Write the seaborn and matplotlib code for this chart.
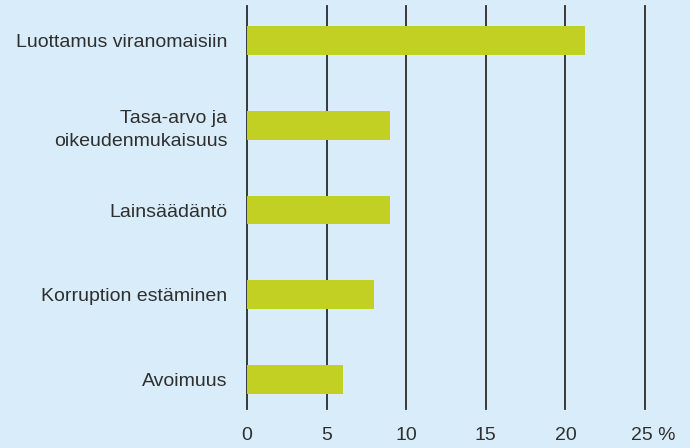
import pandas as pd
import seaborn as sns
import matplotlib.pyplot as plt
import matplotlib.transforms as mtransforms

categories = ['Luottamus viranomaisiin', 'Tasa-arvo ja\noikeudenmukaisuus',
              'Lainsäädäntö', 'Korruption estäminen', 'Avoimuus']
values = [21.2, 9.0, 9.0, 8.0, 6.0]
ticks = [0, 5, 10, 15, 20, 25]
tick_labels = ['0', '5', '10', '15', '20', '25 %']

bg = '#d8edf9'
bar_col = '#c2d024'

df = pd.DataFrame({'cat': categories, 'val': values})

fig = plt.figure(figsize=(6.9, 4.48), dpi=100)
fig.patch.set_facecolor(bg)
ax = fig.add_axes([247/690, 1 - 409/448, (645 - 247)/690, (409 - 6)/448])
ax.set_facecolor(bg)

for t in ticks:
    ax.axvline(t, color='#2b2b2b', lw=1.3, zorder=0, clip_on=False)

sns.barplot(data=df, x='val', y='cat', orient='h', color=bar_col,
            width=0.34, saturation=1, ax=ax, zorder=2)

ax.set_xlim(0, 25)
ax.set_ylim(4.35, -0.41)
ax.set_xticks(ticks)
ax.set_xticklabels(tick_labels)
ax.set_xlabel('')
ax.set_ylabel('')
for s in ax.spines.values():
    s.set_visible(False)
ax.tick_params(axis='both', length=0, labelsize=14, labelcolor='#2f2f2f')
ax.tick_params(axis='y', pad=14)
ax.tick_params(axis='x', pad=13)
for lab in ax.get_yticklabels() + ax.get_xticklabels():
    lab.set_fontfamily('Liberation Sans')
for lab in ax.get_yticklabels():
    lab.set_horizontalalignment('right')
    lab.set_multialignment('right')
    lab.set_linespacing(1.45)

# "25 %" sits with the number under the line, the sign hanging to the right
last = ax.get_xticklabels()[-1]
last.set_transform(last.get_transform() +
                   mtransforms.ScaledTranslation(8/100, 0, fig.dpi_scale_trans))

fig.savefig('out.png', dpi=100, facecolor=bg)
